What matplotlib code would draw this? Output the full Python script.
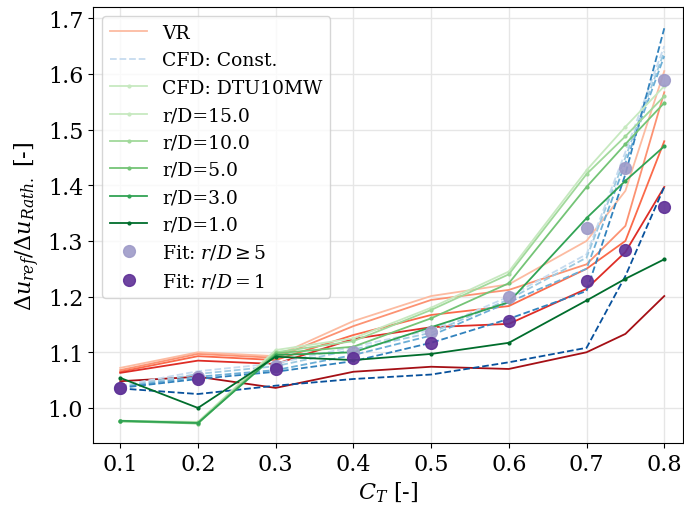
import numpy as np
import matplotlib
matplotlib.use("Agg")
import matplotlib.pyplot as plt
from matplotlib.lines import Line2D

plt.rcParams['font.family'] = 'DejaVu Serif'
plt.rcParams['mathtext.fontset'] = 'dejavuserif'

ct = [0.1, 0.2, 0.3, 0.4, 0.5, 0.6, 0.7, 0.75, 0.8]
rd = [15.0, 10.0, 5.0, 3.0, 1.0]

# VR model, one row per r/D
vr = [
    [1.072, 1.100, 1.093, 1.156, 1.201, 1.222, 1.300, 1.390, 1.605],
    [1.068, 1.097, 1.090, 1.147, 1.194, 1.212, 1.258, 1.327, 1.567],
    [1.065, 1.093, 1.086, 1.131, 1.167, 1.183, 1.250, 1.300, 1.479],
    [1.063, 1.085, 1.079, 1.124, 1.145, 1.151, 1.214, 1.280, 1.397],
    [1.048, 1.056, 1.036, 1.065, 1.074, 1.070, 1.100, 1.133, 1.201],
]
# CFD constant thrust
cfd_const = [
    [1.040, 1.066, 1.080, 1.110, 1.140, 1.200, 1.276, 1.460, 1.650],
    [1.038, 1.061, 1.075, 1.105, 1.135, 1.195, 1.270, 1.450, 1.640],
    [1.037, 1.056, 1.068, 1.095, 1.130, 1.190, 1.250, 1.440, 1.632],
    [1.036, 1.052, 1.065, 1.084, 1.117, 1.160, 1.210, 1.420, 1.682],
    [1.035, 1.025, 1.040, 1.052, 1.060, 1.082, 1.108, 1.237, 1.397],
]
# CFD DTU10MW
cfd_dtu = [
    [0.977, 0.975, 1.104, 1.125, 1.180, 1.245, 1.427, 1.505, 1.578],
    [0.976, 0.974, 1.100, 1.120, 1.176, 1.240, 1.420, 1.488, 1.560],
    [0.976, 0.972, 1.098, 1.110, 1.161, 1.224, 1.397, 1.474, 1.548],
    [0.977, 0.973, 1.095, 1.100, 1.145, 1.190, 1.341, 1.408, 1.470],
    [1.054, 1.000, 1.092, 1.086, 1.097, 1.117, 1.193, 1.232, 1.267],
]
fit_far = [1.036, 1.055, 1.075, 1.100, 1.137, 1.200, 1.323, 1.431, 1.589]
fit_near = [1.036, 1.052, 1.070, 1.090, 1.117, 1.156, 1.228, 1.284, 1.361]

reds = ['#fcbba1', '#fc9272', '#fb6a4a', '#de2d26', '#a50f15']
blues = ['#c6dbef', '#9ecae1', '#6baed6', '#3182bd', '#08519c']
greens = ['#c7e9c0', '#a1d99b', '#74c476', '#31a354', '#006d2c']
purples = ['#9e9ac8', '#5e2f96']

fig = plt.figure(figsize=(6.84, 5.06), dpi=100)
ax = fig.add_axes([0.136, 0.1225, 0.863, 0.8615])

for i in range(len(rd)):
    ax.plot(ct, vr[i], color=reds[i], lw=1.3)
for i in range(len(rd)):
    ax.plot(ct, cfd_const[i], color=blues[i], lw=1.3, ls='--')
for i in range(len(rd)):
    ax.plot(ct, cfd_dtu[i], color=greens[i], lw=1.3, marker='.', ms=4)

ax.plot(ct, fit_far, 'o', color=purples[0], ms=8.5, alpha=0.9)
ax.plot(ct, fit_near, 'o', color=purples[1], ms=8.5, alpha=0.9)

handles = [
    Line2D([], [], color=reds[0], lw=1.3),
    Line2D([], [], color=blues[0], lw=1.3, ls='--'),
    Line2D([], [], color=greens[0], lw=1.3, marker='.', ms=4),
]
labels = ['VR', 'CFD: Const.', 'CFD: DTU10MW']
for i, r in enumerate(rd):
    handles.append(Line2D([], [], color=greens[i], lw=1.3, marker='.', ms=4))
    labels.append('r/D=%.1f' % r)
handles.append(Line2D([], [], color=purples[0], marker='o', ls='', ms=8.5, alpha=0.9))
labels.append(r'Fit: $r/D \geq 5$')
handles.append(Line2D([], [], color=purples[1], marker='o', ls='', ms=8.5, alpha=0.9))
labels.append(r'Fit: $r/D = 1$')

ax.legend(handles, labels, loc='upper left', fontsize=13.5)

ax.set_xlim(0.065, 0.8245)
ax.set_ylim(0.937, 1.72)
ax.set_xticks(ct[:7] + [0.8])
ax.grid(True, color='#e6e6e6', lw=1)
ax.tick_params(labelsize=16)
ax.set_xlabel(r'$C_T$ [-]', fontsize=16)
ax.set_ylabel(r'$\Delta u_{ref}/\Delta u_{Rath.}$ [-]', fontsize=16)

fig.savefig('out.png', dpi=100)
